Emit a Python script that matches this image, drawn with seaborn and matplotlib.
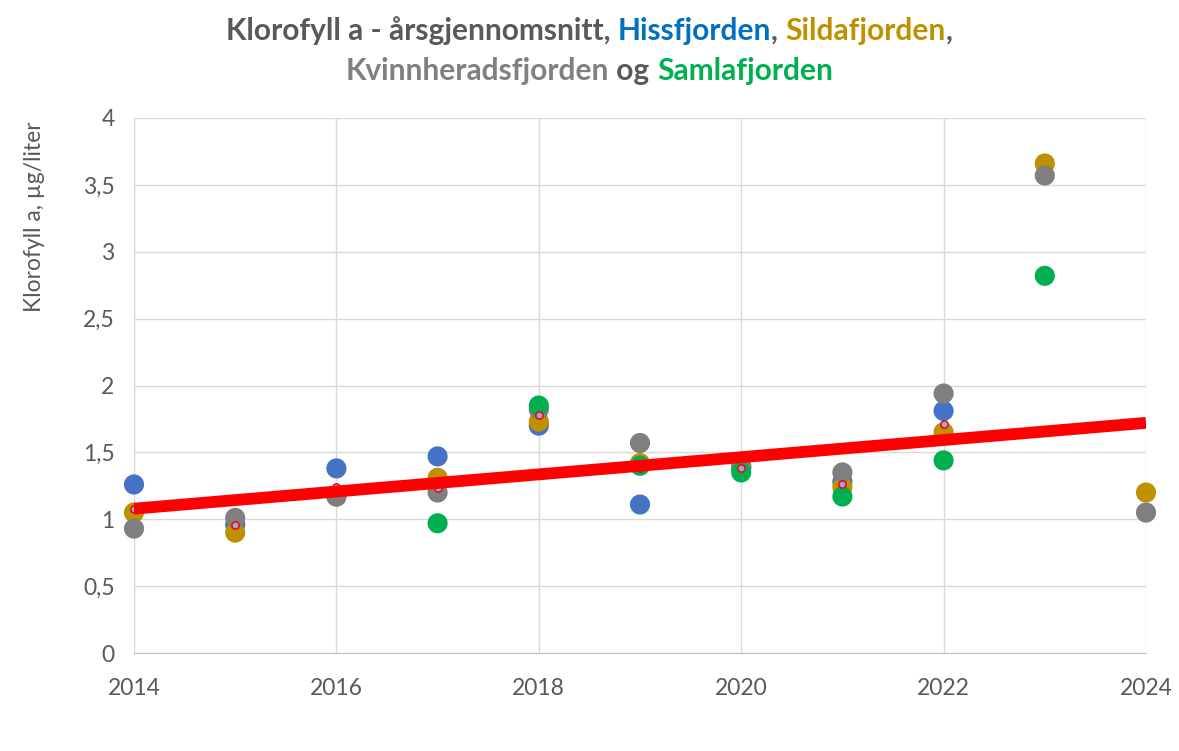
import numpy as np
import pandas as pd
import matplotlib
matplotlib.use("Agg")
import matplotlib.pyplot as plt
import seaborn as sns

nan = np.nan

# annual means
years = [2014, 2015, 2016, 2017, 2018, 2019, 2020, 2021, 2022, 2023, 2024]
hissfjorden = [1.26, 0.96, 1.38, 1.47, 1.70, 1.11, 1.40, 1.28, 1.81, nan, nan]
sildafjorden = [1.05, 0.90, 1.17, 1.31, 1.73, 1.42, 1.39, 1.24, 1.65, 3.66, 1.20]
kvinnherad = [0.93, 1.01, 1.17, 1.20, 1.82, 1.57, 1.38, 1.35, 1.94, 3.57, 1.05]
samlafjorden = [nan, nan, nan, 0.97, 1.85, 1.40, 1.35, 1.17, 1.44, 2.82, nan]
snitt = [1.08, 0.96, 1.24, 1.23, 1.78, 1.38, 1.38, 1.26, 1.71, nan, nan]

fjords = ['Hissfjorden', 'Sildafjorden', 'Kvinnheradsfjorden', 'Samlafjorden']
colors = {'Hissfjorden': '#4472C4', 'Sildafjorden': '#BF9000',
          'Kvinnheradsfjorden': '#7F7F7F', 'Samlafjorden': '#00B050'}

df = pd.DataFrame({'year': years, 'Hissfjorden': hissfjorden,
                   'Sildafjorden': sildafjorden, 'Kvinnheradsfjorden': kvinnherad,
                   'Samlafjorden': samlafjorden})
long_df = df.melt(id_vars='year', value_vars=fjords, var_name='fjord',
                  value_name='klorofyll').dropna()
mean_df = pd.DataFrame({'year': years, 'snitt': snitt}).dropna()

sns.set_style('white')
plt.rcParams['font.family'] = ['Lato', 'DejaVu Sans']

fig = plt.figure(figsize=(11.79, 7.51), dpi=100)
ax = fig.add_axes([134 / 1179, 1 - 653 / 751, (1146 - 134) / 1179, (653 - 118) / 751])

sns.scatterplot(data=long_df, x='year', y='klorofyll', hue='fjord',
                palette=colors, s=210, linewidth=0, legend=False, ax=ax, zorder=3)
sns.scatterplot(data=mean_df, x='year', y='snitt', color='#8FAADC', s=28,
                edgecolor='red', linewidth=1.1, ax=ax, zorder=4)
for coll in ax.collections:
    coll.set_clip_on(False)

# linear trend of the mean series
coef = np.polyfit(mean_df['year'], mean_df['snitt'], 1)
xs = np.array([2014, 2024])
ax.plot(xs, np.polyval(coef, xs), color='red', lw=8.5, solid_capstyle='butt', zorder=5)

ax.set_xlim(2014, 2024)
ax.set_ylim(0, 4)
ax.set_xticks(range(2014, 2025, 2))
ax.set_yticks(np.arange(0, 4.01, 0.5))
ax.set_yticklabels([('%g' % v).replace('.', ',') for v in np.arange(0, 4.01, 0.5)])
ax.grid(True, color='#D9D9D9', lw=1)
ax.set_axisbelow(True)
ax.tick_params(length=0, labelsize=16.5, labelcolor='#595959')
ax.tick_params(axis='x', pad=18)
ax.tick_params(axis='y', pad=14)
for side in ['top', 'right']:
    ax.spines[side].set_visible(False)
ax.spines['left'].set_color('#D9D9D9')
ax.spines['bottom'].set_color('#BFBFBF')
ax.set_xlabel('')
ax.set_ylabel('')
fig.text(35 / 1179, 1 - 217 / 751, 'Klorofyll a, µg/liter', rotation=90,
         ha='center', va='center', fontsize=16.5, color='#595959')

# multi-coloured title, piece by piece
dark = '#595959'
lines = [
    [('Klorofyll a - årsgjennomsnitt, ', dark), ('Hissfjorden', '#0070C0'),
     (', ', dark), ('Sildafjorden', '#BF9000'), (',', dark)],
    [('Kvinnheradsfjorden', '#808080'), (' og ', dark), ('Samlafjorden', '#00B050')],
]
fig.canvas.draw()
renderer = fig.canvas.get_renderer()
for i, parts in enumerate(lines):
    y = 1 - (31 + i * 40) / 751
    texts = [fig.text(0, y, s, color=c, fontsize=21.5, fontweight='bold', va='center')
             for s, c in parts]
    widths = [t.get_window_extent(renderer).width for t in texts]
    x = (1179 - sum(widths)) / 2 / 1179
    for t, w in zip(texts, widths):
        t.set_x(x)
        x += w / 1179

fig.savefig('out.png', dpi=100)
